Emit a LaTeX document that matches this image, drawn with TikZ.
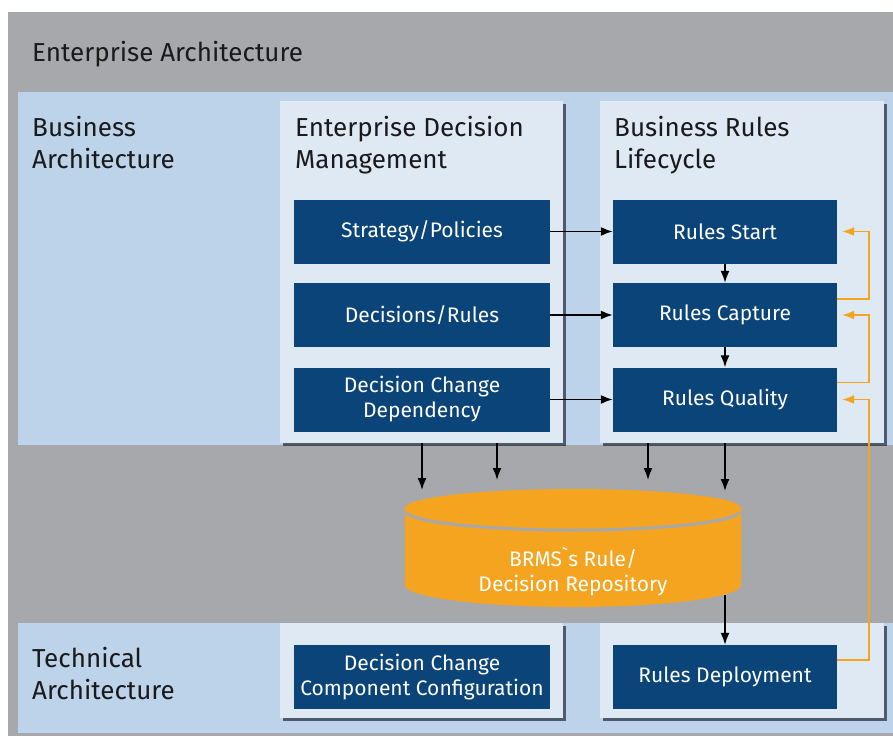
\documentclass[tikz,border=0pt]{standalone}
\usepackage{fontspec}
% plain family: no TeX ligature mapping, so ` stays a grave accent
\newfontfamily\labelfont{Fira Sans}
\usetikzlibrary{arrows.meta,shadows}

\definecolor{eagray}{HTML}{A7A8AB}
\definecolor{bandblue}{HTML}{BCD3EA}
\definecolor{panelblue}{HTML}{DEE9F4}
\definecolor{navy}{HTML}{0B4479}
\definecolor{brmsorange}{HTML}{F4A41F}
\definecolor{inktext}{HTML}{1A1A1A}

\begin{document}
\begin{tikzpicture}[x=1pt,y=-1pt,
  heading/.style={anchor=north west, inner sep=0pt, align=left, text=inktext,
    font=\labelfont\fontsize{26}{32}\selectfont},
  panel/.style={anchor=north west, fill=panelblue, inner sep=0pt,
    drop shadow={shadow xshift=3pt, shadow yshift=-3pt, opacity=0.6, fill=black!80!navy}},
  stepbox/.style={fill=navy, text=white, inner sep=0pt, align=center,
    minimum height=64pt, font=\labelfont\fontsize{21}{25}\selectfont},
  flow/.style={draw=black, line width=1.6pt, -{Latex[length=12pt,width=9pt]}},
  loopback/.style={draw=brmsorange, line width=1.6pt, -{Latex[length=12pt,width=9pt]}}
]
\useasboundingbox (0,0) rectangle (893,736);

% layers
\fill[eagray] (8,12) rectangle (893,736);
\fill[bandblue] (18,92) rectangle (893,445);
\fill[bandblue] (18,623) rectangle (893,733);

\node[heading] (ea) at (32,41) {Enterprise Architecture};
\node[heading] (ba) at (32,116) {Business\\Architecture};
\node[heading] (ta) at (32,647) {Technical\\Architecture};

% panels
\node[panel, minimum width=283pt, minimum height=342pt] (edm) at (280,101) {};
\node[panel, minimum width=284pt, minimum height=342pt] (brl) at (600,101) {};
\node[panel, minimum width=283pt, minimum height=95pt] (tl) at (280,623) {};
\node[panel, minimum width=284pt, minimum height=95pt] (tr) at (600,623) {};

\node[heading] (edmt) at (295,116) {Enterprise Decision\\Management};
\node[heading] (brlt) at (614,116) {Business Rules\\Lifecycle};

% decision management boxes
\node[stepbox, minimum width=256pt] (sp) at (422,231.5) {Strategy/Policies};
\node[stepbox, minimum width=256pt] (dr) at (422,315) {Decisions/Rules};
\node[stepbox, minimum width=256pt] (dcd) at (422,399.5) {Decision Change\\Dependency};

% lifecycle boxes
\node[stepbox, minimum width=224pt] (rs) at (725,231.5) {Rules Start};
\node[stepbox, minimum width=224pt] (rc) at (725,315) {Rules Capture};
\node[stepbox, minimum width=224pt] (rq) at (725,399.5) {Rules Quality};

% technical boxes
\node[stepbox, minimum width=256pt] (dccc) at (422,677) {Decision Change\\Component Configuration};
\node[stepbox, minimum width=224pt] (rd) at (725,677) {Rules Deployment};

% repository cylinder
\fill[brmsorange] (405,508) -- (405,585)
  arc[start angle=180, end angle=360, x radius=168pt, y radius=22pt]
  -- (741,508) -- cycle;
\draw[eagray, line width=3pt] (406,512)
  arc[start angle=183, end angle=357, x radius=167pt, y radius=19pt];
\fill[brmsorange] (573,508) ellipse[x radius=168pt, y radius=19pt];
\node[text=white, align=center, inner sep=0pt,
  font=\labelfont\fontsize{21}{25}\selectfont] (repo) at (573,572)
  {BRMS`s Rule/\\Decision Repository};

% horizontal flows
\draw[flow] (sp.east) -- (rs.west);
\draw[flow] (dr.east) -- (rc.west);
\draw[flow] (dcd.east) -- (rq.west);
\draw[flow] (rs.south) -- (rc.north);
\draw[flow] (rc.south) -- (rq.north);

% flows into the repository
\coordinate (in1) at (422,490);
\coordinate (in2) at (497,480);
\coordinate (in3) at (648,480);
\coordinate (in4) at (725,491);
\draw[flow] (edm.south -| in1) -- (in1);
\draw[flow] (edm.south -| in2) -- (in2);
\draw[flow] (brl.south -| in3) -- (in3);
\draw[flow] (brl.south -| in4) -- (in4);

% repository to deployment
\coordinate (out) at (725,595);
\draw[flow] (out) -- (rd.north);

% loop-backs
\coordinate (lb) at (869,0);
\draw[loopback] ([yshift=-16pt]rc.north east) -| (lb |- rs.east) -- ([xshift=5pt]rs.east);
\draw[loopback] ([yshift=-15pt]rq.north east) -| (lb |- rc.east) -- ([xshift=5pt]rc.east);
\draw[loopback] ([yshift=-15pt]rd.north east) -| (lb |- rq.east) -- ([xshift=5pt]rq.east);
\end{tikzpicture}
\end{document}
